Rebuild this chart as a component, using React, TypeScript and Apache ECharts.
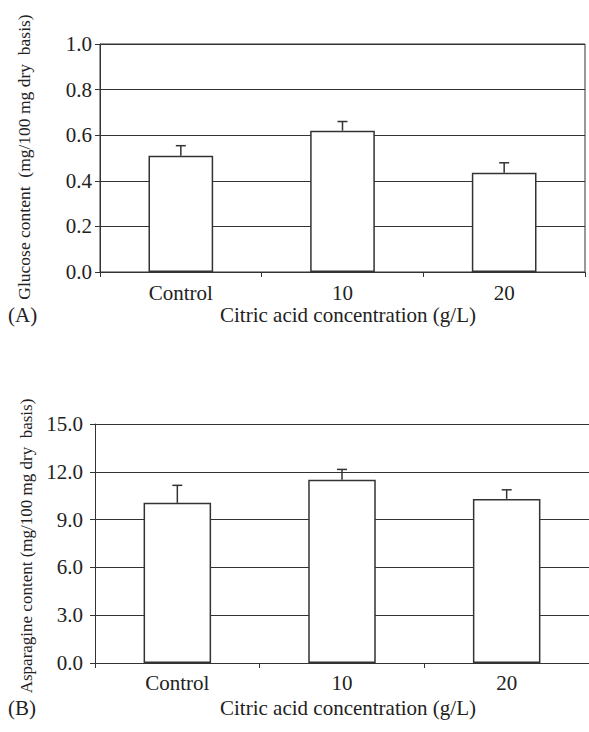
import React, { useEffect, useRef } from "react";
import * as echarts from "echarts";

const categories = ["Control", "10", "20"];
const glucoseValues = [0.51, 0.62, 0.435];
const glucoseErrors = [0.044, 0.04, 0.044];
const asparagineValues = [10.05, 11.5, 10.3];
const asparagineErrors = [1.1, 0.65, 0.57];
const glucoseTicks = { min: 0, max: 1, interval: 0.2 };
const asparagineTicks = { min: 0, max: 15, interval: 3 };

const FONT = "Liberation Serif";
const INK = "#222";
const LINE = "#333";

export default function App() {
  const ref = useRef<HTMLDivElement>(null);
  useEffect(() => {
    if (!ref.current) return;
    const chart = echarts.init(ref.current, null, { renderer: "svg" });

    const errorSeries = (axisIdx: number, vals: number[], errs: number[]) => ({
      type: "custom",
      xAxisIndex: axisIdx,
      yAxisIndex: axisIdx,
      z: 5,
      data: vals.map((v, i) => [i, v, v + errs[i]]),
      renderItem: (params: any, api: any) => {
        const i = api.value(0);
        const p0 = api.coord([i, api.value(1)]);
        const p1 = api.coord([i, api.value(2)]);
        const style = { stroke: LINE, lineWidth: 1.5 };
        return {
          type: "group",
          children: [
            { type: "line", shape: { x1: p0[0], y1: p0[1], x2: p1[0], y2: p1[1] }, style },
            { type: "line", shape: { x1: p1[0] - 5, y1: p1[1], x2: p1[0] + 5, y2: p1[1] }, style },
          ],
        };
      },
    });

    const xAxisBase = (gridIndex: number, margin: number) => ({
      type: "category",
      gridIndex,
      data: categories,
      boundaryGap: true,
      axisLine: { show: true, lineStyle: { color: LINE, width: 1 } },
      axisTick: { show: true, inside: false, length: 5, lineStyle: { color: LINE } },
      axisLabel: { color: INK, fontFamily: FONT, fontSize: 21, margin },
    });

    const yAxisBase = (gridIndex: number, t: any, margin: number) => ({
      type: "value",
      gridIndex,
      min: t.min,
      max: t.max,
      interval: t.interval,
      axisLine: { show: true, lineStyle: { color: LINE, width: 1 } },
      axisTick: { show: true, inside: false, length: 5, lineStyle: { color: LINE } },
      axisLabel: {
        color: INK,
        fontFamily: FONT,
        fontSize: 21,
        margin,
        formatter: (v: number) => v.toFixed(1),
      },
      splitLine: { show: true, lineStyle: { color: LINE, width: 1 } },
    });

    const text = (t: string, x: number, y: number, opts: any = {}) => ({
      type: "text",
      x,
      y,
      rotation: opts.rotation || 0,
      style: {
        text: t,
        fill: INK,
        fontFamily: FONT,
        fontSize: opts.size || 21,
        align: opts.align || "left",
        verticalAlign: "middle",
      },
    });

    chart.setOption({
      animation: false,
      backgroundColor: "#fff",
      grid: [
        { left: 100, top: 44, width: 485, height: 228, show: true, borderColor: LINE, borderWidth: 1, backgroundColor: "transparent" },
        { left: 95, top: 424, width: 496, height: 239 },
      ],
      xAxis: [xAxisBase(0, 10), xAxisBase(1, 9)],
      yAxis: [yAxisBase(0, glucoseTicks, 8), yAxisBase(1, asparagineTicks, 12)],
      series: [
        {
          type: "bar",
          xAxisIndex: 0,
          yAxisIndex: 0,
          data: glucoseValues,
          barWidth: "40%",
          itemStyle: { color: "#fff", borderColor: LINE, borderWidth: 1.5 },
        },
        errorSeries(0, glucoseValues, glucoseErrors),
        {
          type: "bar",
          xAxisIndex: 1,
          yAxisIndex: 1,
          data: asparagineValues,
          barWidth: "41%",
          itemStyle: { color: "#fff", borderColor: LINE, borderWidth: 1.5 },
        },
        errorSeries(1, asparagineValues, asparagineErrors),
      ],
      graphic: [
        text("(A)", 8, 315),
        text("Citric acid concentration (g/L)", 348, 315, { align: "center" }),
        text("(B)", 8, 708),
        text("Citric acid concentration (g/L)", 348, 708, { align: "center" }),
        text("Glucose content  (mg/100 mg dry  basis)", 24, 157, { align: "center", rotation: Math.PI / 2, size: 17.5 }),
        text("Asparagine content (mg/100 mg dry  basis)", 26, 546, { align: "center", rotation: Math.PI / 2, size: 17 }),
      ],
    });
    return () => chart.dispose();
  }, []);
  return (
    <div
      ref={ref}
      style={{ position: "absolute", left: 0, top: 0, width: 589, height: 732 }}
    />
  );
}
